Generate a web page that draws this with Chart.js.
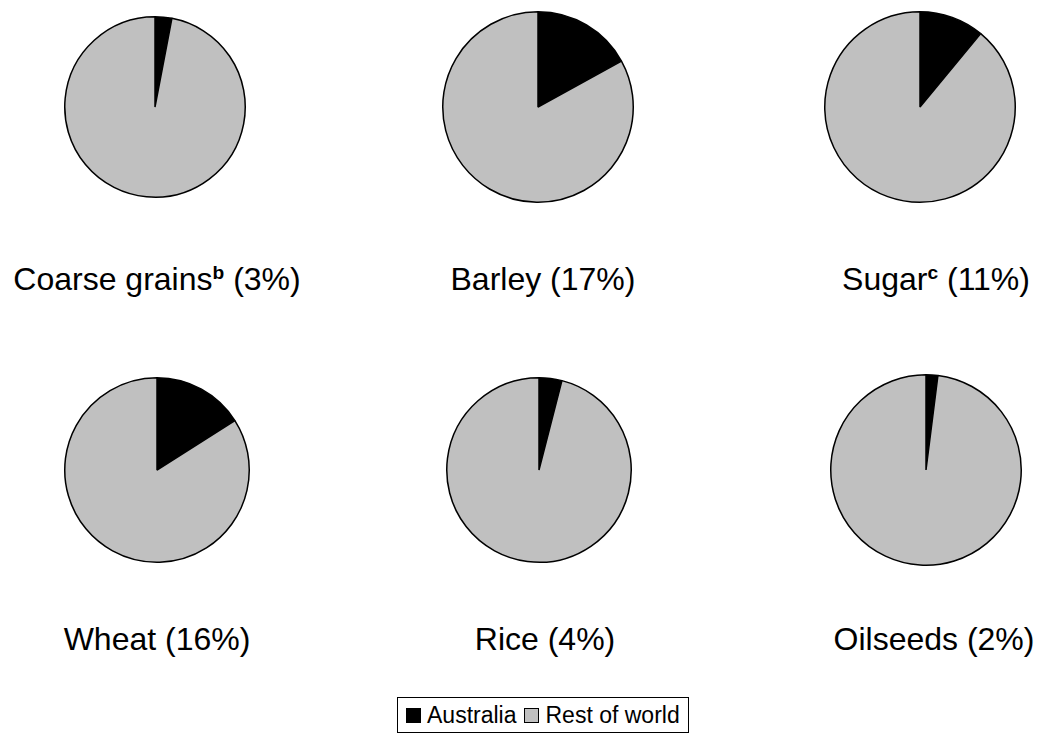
<!DOCTYPE html>
<html>
<head>
<meta charset="utf-8">
<script src="https://cdn.jsdelivr.net/npm/chart.js@4/dist/chart.umd.min.js"></script>
<style>
  html, body { margin: 0; padding: 0; background: #fff; }
  #stage { position: relative; width: 1039px; height: 734px; overflow: hidden;
    font-family: Arial, 'Liberation Sans', sans-serif; color: #000; }
  .pie { position: absolute; }
  .label { position: absolute; font-size: 32px; white-space: nowrap; transform: translate(-50%, -50%); }
  .label sup { font-size: 0.6em; font-weight: bold; vertical-align: 0.55em; line-height: 0; }
  #legend { position: absolute; border: 1px solid #000; padding: 0 8px 0 0; font-size: 23px;
    white-space: nowrap; display: flex; align-items: center; box-sizing: border-box; }
  #legend .sw { display: inline-block; width: 15px; height: 15px; border: 1.5px solid #000;
    box-sizing: border-box; margin: 0 6px 0 8px; }
</style>
</head>
<body>
<div id="stage"><div id="legend"></div></div>
<script>
  // commodities and Australia's share of world exports (%)
  const commodities = ['Coarse grains', 'Barley', 'Sugar', 'Wheat', 'Rice', 'Oilseeds'];
  const footnotes = ['b', '', 'c', '', '', ''];
  const australia = [3, 17, 11, 16, 4, 2];
  const restOfWorld = [97, 83, 89, 84, 96, 98];
  const seriesNames = ['Australia', 'Rest of world'];
  const seriesColors = ['#000000', '#c0c0c0'];

  // layout of the 3x2 grid
  const centersX = [[155, 538, 920], [157, 539, 926]];
  const centersY = [107, 470];
  const radii = [[90, 95, 95], [92, 92, 95]];
  const labelY = [279, 639];
  const labelX = [[157, 543, 936], [157, 545, 934]];

  const stage = document.getElementById('stage');

  commodities.forEach((name, i) => {
    const row = Math.floor(i / 3), col = i % 3;
    const r = radii[row][col];
    const size = 2 * r + 4;

    const box = document.createElement('div');
    box.className = 'pie';
    box.style.left = (centersX[row][col] - size / 2) + 'px';
    box.style.top = (centersY[row] - size / 2) + 'px';
    box.style.width = size + 'px';
    box.style.height = size + 'px';
    const canvas = document.createElement('canvas');
    box.appendChild(canvas);
    stage.appendChild(box);

    new Chart(canvas, {
      type: 'pie',
      data: {
        labels: seriesNames,
        datasets: [{
          data: [australia[i], restOfWorld[i]],
          backgroundColor: seriesColors,
          borderColor: '#000',
          borderWidth: 1.5
        }]
      },
      options: {
        responsive: true,
        maintainAspectRatio: false,
        animation: false,
        layout: { padding: 1 },
        plugins: { legend: { display: false }, tooltip: { enabled: false } }
      }
    });

    const label = document.createElement('div');
    label.className = 'label';
    label.style.left = labelX[row][col] + 'px';
    label.style.top = labelY[row] + 'px';
    label.innerHTML = name + (footnotes[i] ? '<sup>' + footnotes[i] + '</sup>' : '') +
      ' (' + australia[i] + '%)';
    stage.appendChild(label);
  });

  // legend
  const legend = document.getElementById('legend');
  legend.style.left = '397px';
  legend.style.top = '697px';
  legend.style.height = '36px';
  seriesNames.forEach((s, i) => {
    const sw = document.createElement('span');
    sw.className = 'sw';
    sw.style.background = seriesColors[i];
    legend.appendChild(sw);
    const t = document.createElement('span');
    t.textContent = s;
    legend.appendChild(t);
  });
</script>
</body>
</html>
